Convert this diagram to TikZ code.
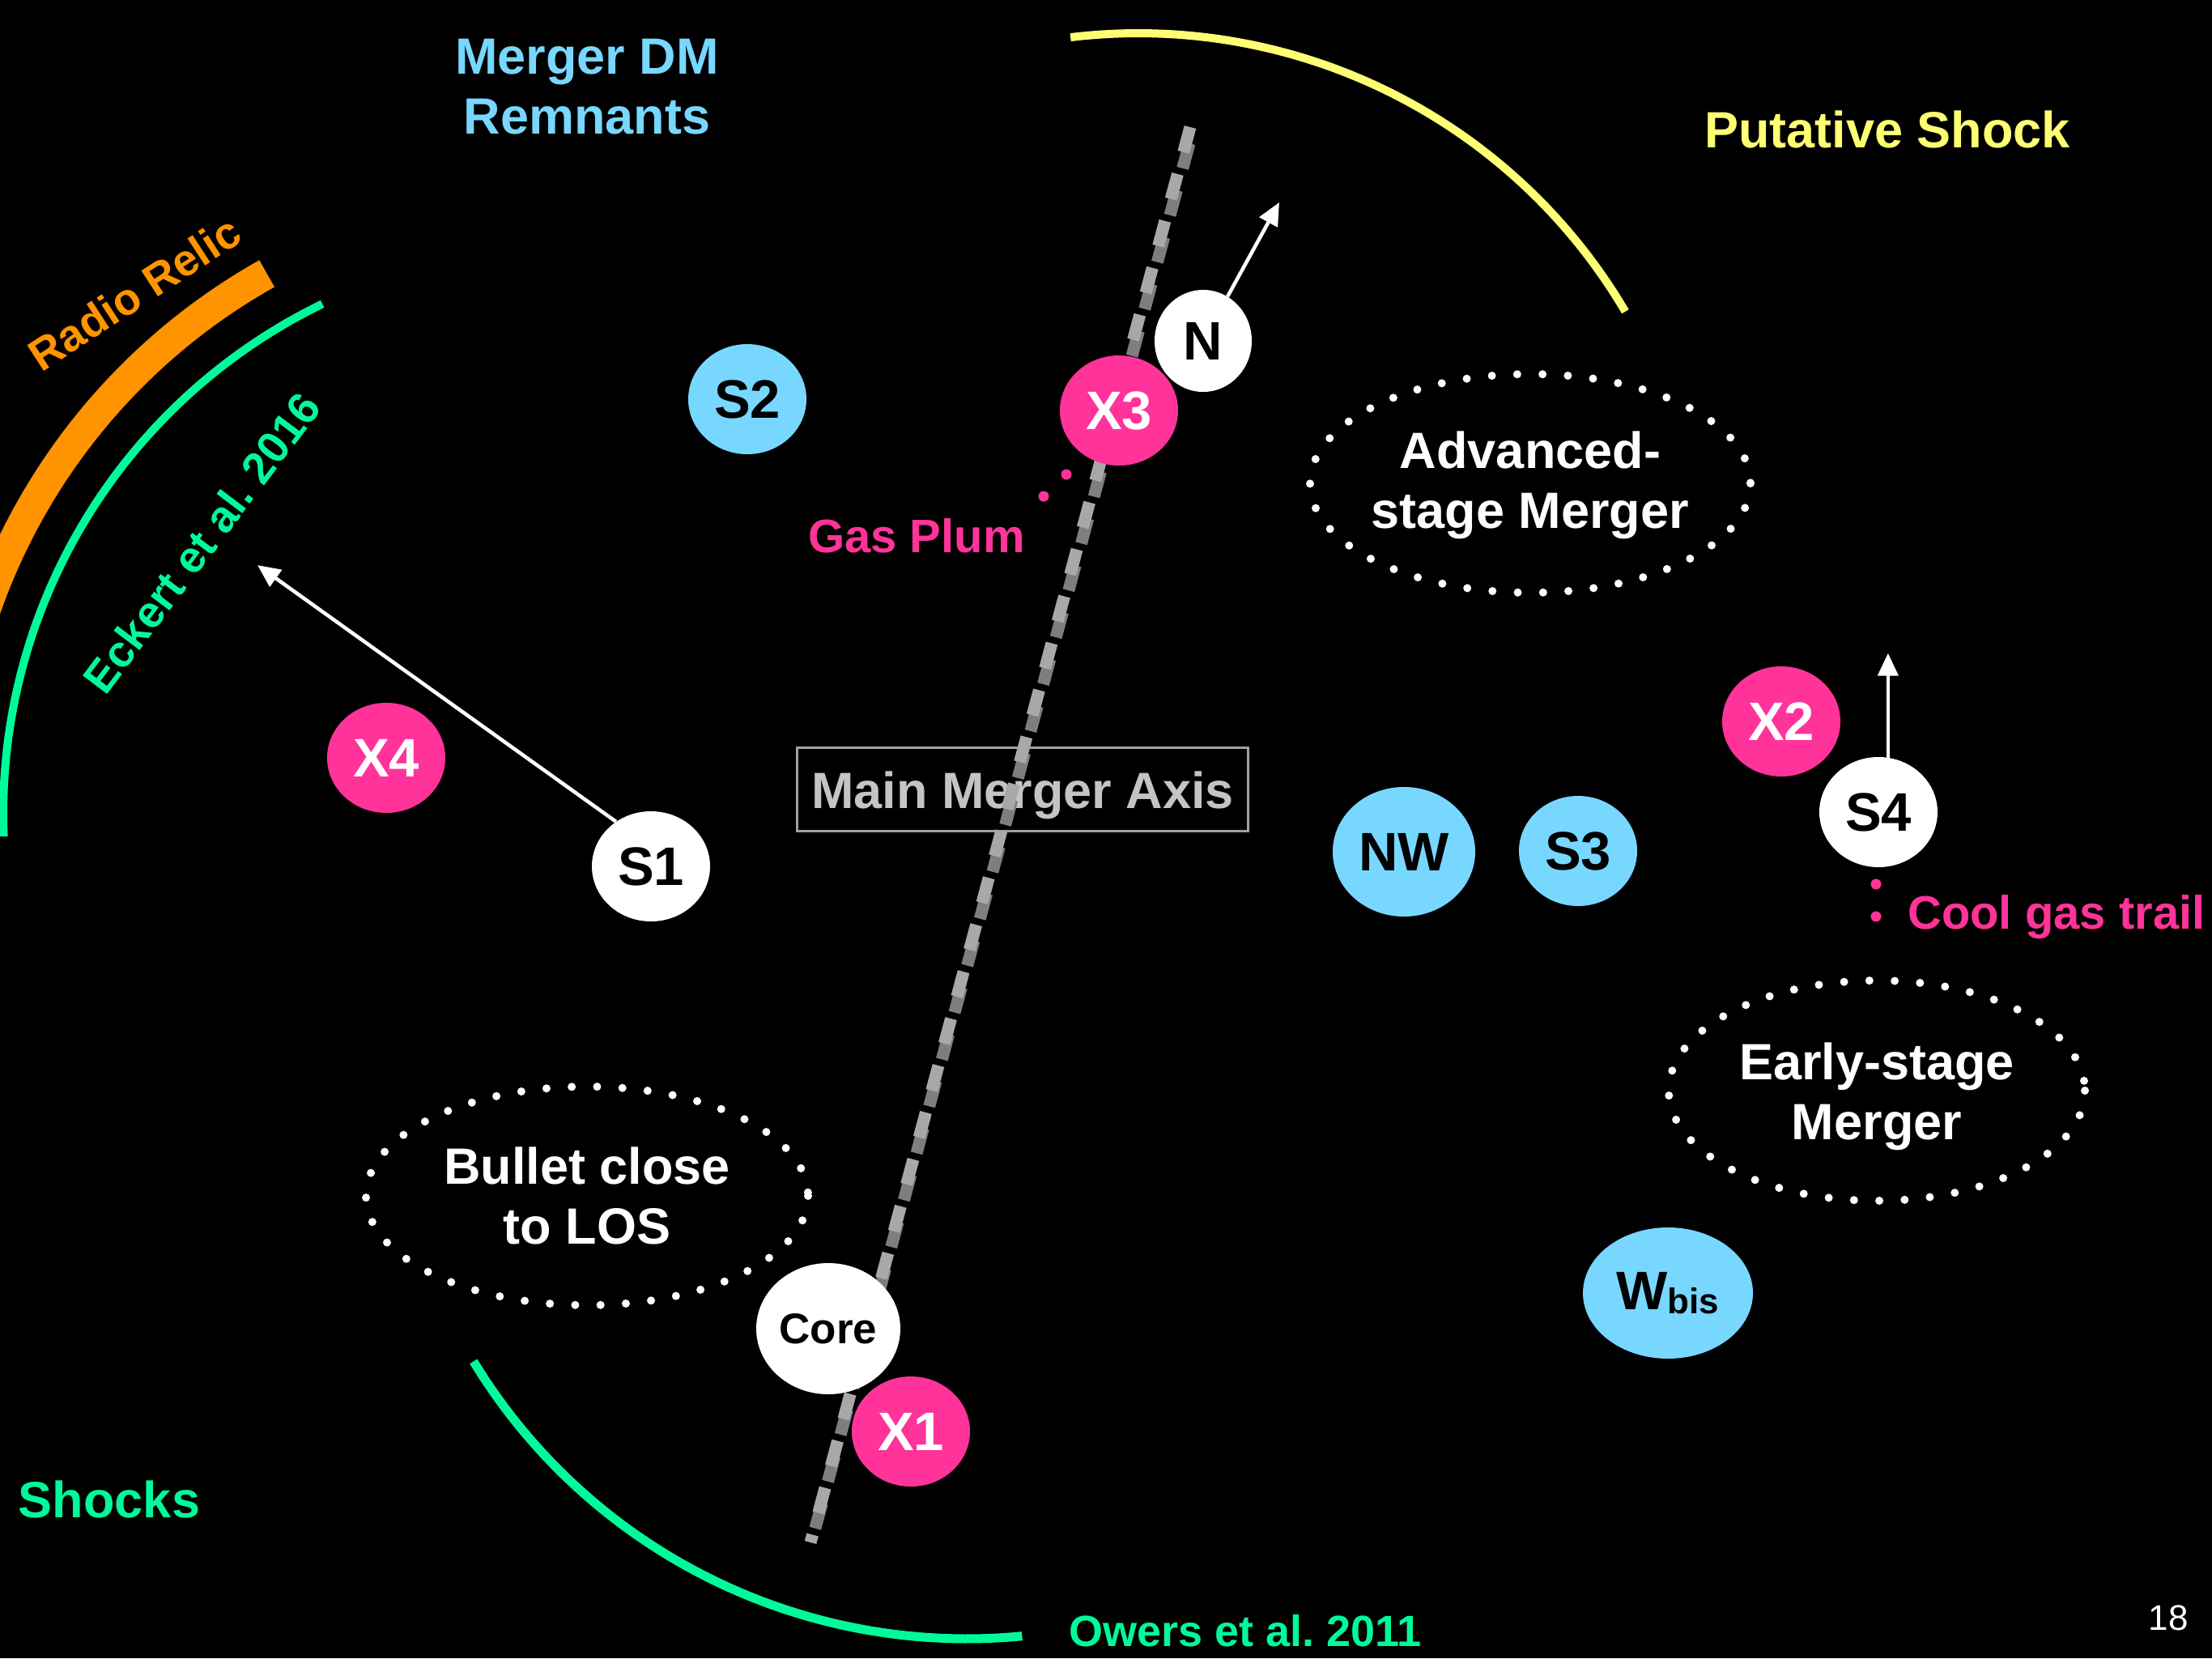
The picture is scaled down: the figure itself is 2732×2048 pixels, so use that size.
\documentclass[tikz,border=0pt]{standalone}
\usepackage{fontspec}
\setmainfont{Liberation Sans}
\usetikzlibrary{shapes.geometric,arrows.meta}
\definecolor{pinkc}{HTML}{FF3399}
\definecolor{skyc}{HTML}{78D7FF}
\definecolor{greenc}{HTML}{00FA99}
\definecolor{orangec}{HTML}{FF9300}
\definecolor{yellowc}{HTML}{FFFF73}
\definecolor{axlight}{HTML}{A8A8A8}
\definecolor{axdark}{HTML}{7E7E7E}
\definecolor{boxgray}{HTML}{A0A0A0}
\definecolor{boxtext}{HTML}{C4C4C4}
\frenchspacing
\begin{document}
\begin{tikzpicture}[x=1pt,y=-1pt,
  lbl/.style={font=\bfseries\fontsize{63}{74}\selectfont, align=center, inner sep=0pt},
  smalllbl/.style={font=\bfseries\fontsize{58}{68}\selectfont, inner sep=0pt},
  slantlbl/.style={font=\bfseries\fontsize{55}{64}\selectfont, inner sep=0pt},
  blob/.style={ellipse, inner sep=0pt, minimum width=146pt, minimum height=136pt,
               font=\bfseries\fontsize{67}{67}\selectfont},
  bluenode/.style={blob, fill=skyc, text=black},
  pinknode/.style={blob, fill=pinkc, text=white},
  whitenode/.style={blob, fill=white, text=black},
  dotring/.style={white, line width=10pt, line cap=round, dash pattern=on 0pt off 31.3pt},
  motion/.style={white, line width=4.5pt, -{Triangle[length=28pt,width=25pt]}},
  axislight/.style={draw=axlight, line width=15pt, dash pattern=on 32pt off 28pt},
  axisdark/.style={draw=axdark, line width=15pt, dash pattern=on 32pt off 28pt},
]
\fill[black] (0,0) rectangle (2732,2048);
\useasboundingbox (0,0) rectangle (2732,2048);
\clip (0,0) rectangle (2732,2048);

% shock fronts and radio relic
\draw[orangec, line width=38pt] plot[domain=190:240.7, samples=80]
  ({704+765*cos(\x)}, {1005+765*sin(\x)});
\draw[greenc, line width=10pt] plot[domain=177.7:244.1, samples=80]
  ({704+700*cos(\x)}, {1005+700*sin(\x)});
\draw[yellowc, line width=10pt] plot[domain=263.1:329.5, samples=80]
  ({1406+698*cos(\x)}, {739+698*sin(\x)});
\draw[greenc, line width=11pt] plot[domain=84.5:148.7, samples=80]
  ({1194+713*cos(\x)}, {1311+713*sin(\x)});

% labels
\node[lbl, text=skyc] (dm) at (725,107) {Merger DM\\Remnants};
\node[lbl, text=yellowc] (putative) at (2331,160) {Putative Shock};
\node[lbl, text=greenc] (shocks) at (135,1852) {Shocks};
\node[slantlbl, text=orangec, rotate=33] (relic) at (166,362) {Radio Relic};
\node[slantlbl, text=greenc, rotate=53] (eckert) at (249,670) {Eckert et al. 2016};
\node[font=\bfseries\fontsize{54}{64}\selectfont, inner sep=0pt, text=greenc] (owers) at (1538,2014) {Owers et al. 2011};
\node[font=\fontsize{44}{50}\selectfont, inner sep=0pt, text=white] (pagenum) at (2678,1998) {18};

% main merger axis box
\node[draw=boxgray, line width=3pt, minimum width=557pt, minimum height=103pt, inner sep=0pt,
      text height=47pt, text depth=0pt,
      text=boxtext, font=\bfseries\fontsize{63}{63}\selectfont] (axisbox) at (1263,974.5) {Main Merger Axis};

% merger axis (dashed, with darker offset shading)
\coordinate (axtop) at (1470,157);
\coordinate (axbot) at (1001,1905);
\draw[axisdark] ([shift={(-1,20)}]axtop) -- ([shift={(-1,8)}]axbot);
\draw[axislight] (axtop) -- (axbot);

% merger-stage regions
\node[lbl, text=white] (adv) at (1890,599) {Advanced-\\stage Merger};
\draw[dotring] (1890,597) ellipse [x radius=272, y radius=135];
\node[lbl, text=white] (early) at (2318,1354) {Early-stage\\Merger};
\draw[dotring] ([yshift=7pt]early.center) ellipse [x radius=257, y radius=136];
\node[lbl, text=white] (bullet) at (725,1477) {Bullet close\\to LOS};
\draw[dotring] (bullet) ellipse [x radius=273, y radius=135];

% substructures
\node[bluenode] (S2) at (923,493) {S2};
\node[pinknode] (X3) at (1382,507) {X3};
\node[whitenode, minimum width=120pt, minimum height=126pt] (N) at (1486,421) {N};
\node[pinknode] (X4) at (477,936) {X4};
\node[whitenode] (S1) at (804,1070) {S1};
\node[bluenode, minimum width=176pt, minimum height=160pt] (NW) at (1734,1052) {NW};
\node[bluenode] (S3) at (1949,1051) {S3};
\node[pinknode] (X2) at (2200,891) {X2};
\node[whitenode] (S4) at (2320,1003) {S4};
\node[whitenode, minimum width=178pt, minimum height=162pt,
      font=\bfseries\fontsize{53}{53}\selectfont] (core) at (1023,1641) {Core};
\node[pinknode] (X1) at (1125,1768) {X1};
\node[bluenode, minimum width=210pt, minimum height=162pt] (wbis) at (2060,1597)
  {W\raisebox{-5pt}{\fontsize{44}{44}\selectfont bis}};

% motion arrows
\coordinate (Ntip) at (1580,250);
\coordinate (S1tip) at (318,698);
\draw[motion] (N) -- (Ntip);
\draw[motion] (S1.128) -- (S1tip);
\draw[motion] (S4.80) -- ++(0,-129);

% gas features
\fill[pinkc] (1317,586) circle[radius=6.5];
\fill[pinkc] (1289,613) circle[radius=6.5];
\node[smalllbl, text=pinkc] (plum) at (1132,662) {Gas Plum};
\fill[pinkc] (2317,1092) circle[radius=6.5];
\fill[pinkc] (2317,1132) circle[radius=6.5];
\node[smalllbl, text=pinkc, anchor=base west] (trail) at (2356,1147) {Cool gas trail};
\end{tikzpicture}
\end{document}
